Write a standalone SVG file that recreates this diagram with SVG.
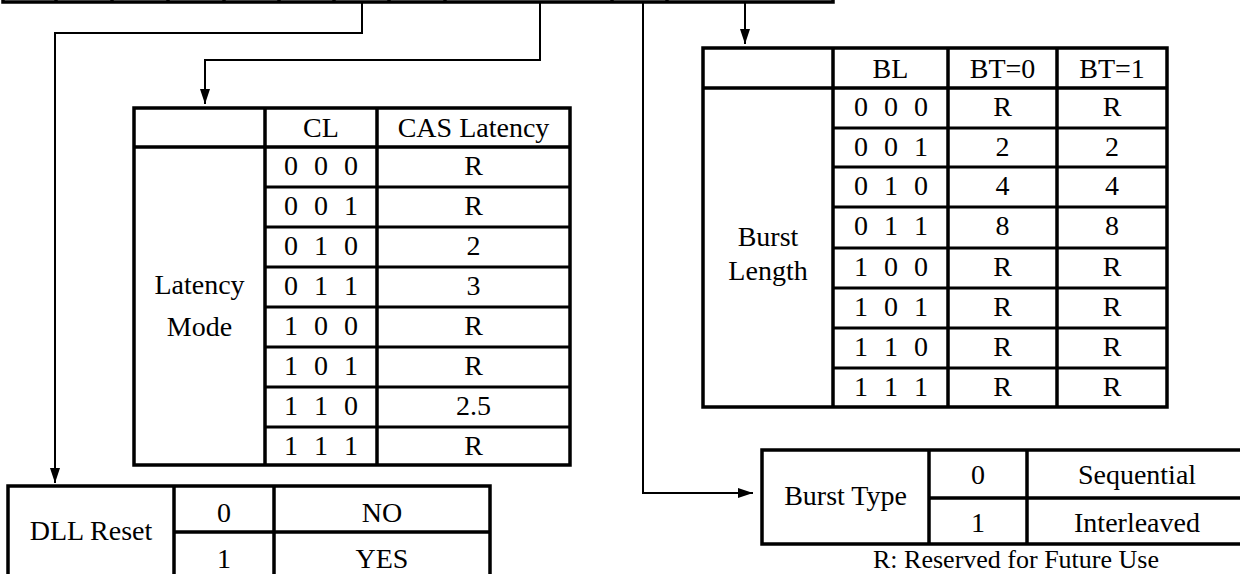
<svg xmlns="http://www.w3.org/2000/svg" width="1240" height="574" viewBox="0 0 1240 574">
<style>
.bg{fill:#fff}
.box{fill:none;stroke:#000;stroke-width:3.5}
.ln{stroke:#000;stroke-width:3.5}
.rl{stroke:#000;stroke-width:3}
.cn{fill:none;stroke:#000;stroke-width:2}
.t{font-family:'Liberation Serif','Times New Roman',Times,'DejaVu Serif',serif;font-size:28px;fill:#000;text-anchor:middle}
.note{font-size:26px}
</style>
<defs>
<marker id="ah" markerUnits="userSpaceOnUse" markerWidth="15" markerHeight="10" refX="15" refY="5" orient="auto">
<path d="M0,0 L15,5 L0,10 Z" fill="#000"/>
</marker>
</defs>
<rect class="bg" x="0" y="0" width="1240" height="574"/>

<g id="register-bar">
<rect class="box" x="3" y="-40" width="830" height="42"/>
<path class="ln" d="M56,-40V2 M112,-40V2 M168,-40V2 M224,-40V2 M279,-40V2 M334,-40V2 M389,-40V2 M445,-40V2 M612,-40V2 M667,-40V2"/>
</g>

<g id="connectors">
<path class="cn" d="M362,2 V33 H55 V483" marker-end="url(#ah)"/>
<path class="cn" d="M540,2 V60 H205 V104" marker-end="url(#ah)"/>
<path class="cn" d="M643,2 V493 H753" marker-end="url(#ah)"/>
<path class="cn" d="M745,2 V44" marker-end="url(#ah)"/>
</g>

<g id="latency-table" class="t">
<rect class="box" x="134" y="108" width="436" height="357"/>
<path class="ln" d="M265,108V465 M377,108V465 M134,147H570"/>
<path class="rl" d="M265,187H570 M265,227H570 M265,267H570 M265,307H570 M265,347H570 M265,387H570 M265,427H570"/>
<text x="321" y="137">CL</text>
<text x="473.5" y="137">CAS Latency</text>
<text x="199.5" y="294">Latency</text>
<text x="199.5" y="336">Mode</text>
<text x="291 306 321 336 351" y="175">0 0 0</text>
<text x="291 306 321 336 351" y="215">0 0 1</text>
<text x="291 306 321 336 351" y="255">0 1 0</text>
<text x="291 306 321 336 351" y="295">0 1 1</text>
<text x="291 306 321 336 351" y="335">1 0 0</text>
<text x="291 306 321 336 351" y="375">1 0 1</text>
<text x="291 306 321 336 351" y="415">1 1 0</text>
<text x="291 306 321 336 351" y="455">1 1 1</text>
<text x="473.5" y="175">R</text>
<text x="473.5" y="215">R</text>
<text x="473.5" y="255">2</text>
<text x="473.5" y="295">3</text>
<text x="473.5" y="335">R</text>
<text x="473.5" y="375">R</text>
<text x="473.5" y="415">2.5</text>
<text x="473.5" y="455">R</text>
</g>

<g id="burst-length-table" class="t">
<rect class="box" x="703" y="48" width="464" height="359"/>
<path class="ln" d="M833,48V407 M948,48V407 M1057,48V407 M703,88H1167"/>
<path class="rl" d="M833,128H1167 M833,167H1167 M833,207H1167 M833,248H1167 M833,288H1167 M833,328H1167 M833,368H1167"/>
<text x="890.5" y="78">BL</text>
<text x="1002.5" y="78">BT=0</text>
<text x="1112" y="78">BT=1</text>
<text x="768" y="246">Burst</text>
<text x="768" y="280">Length</text>
<text x="861 876 891 906 921" y="116">0 0 0</text>
<text x="861 876 891 906 921" y="156">0 0 1</text>
<text x="861 876 891 906 921" y="195">0 1 0</text>
<text x="861 876 891 906 921" y="235">0 1 1</text>
<text x="861 876 891 906 921" y="276">1 0 0</text>
<text x="861 876 891 906 921" y="316">1 0 1</text>
<text x="861 876 891 906 921" y="356">1 1 0</text>
<text x="861 876 891 906 921" y="396">1 1 1</text>
<text x="1002.5" y="116">R</text><text x="1112" y="116">R</text>
<text x="1002.5" y="156">2</text><text x="1112" y="156">2</text>
<text x="1002.5" y="195">4</text><text x="1112" y="195">4</text>
<text x="1002.5" y="235">8</text><text x="1112" y="235">8</text>
<text x="1002.5" y="276">R</text><text x="1112" y="276">R</text>
<text x="1002.5" y="316">R</text><text x="1112" y="316">R</text>
<text x="1002.5" y="356">R</text><text x="1112" y="356">R</text>
<text x="1002.5" y="396">R</text><text x="1112" y="396">R</text>
</g>

<g id="dll-reset-table" class="t">
<rect class="box" x="8" y="486" width="482" height="100"/>
<path class="ln" d="M174,486V586 M274,486V586 M174,532H490"/>
<text x="91" y="540">DLL Reset</text>
<text x="224" y="522">0</text>
<text x="382" y="522">NO</text>
<text x="224" y="568">1</text>
<text x="382" y="568">YES</text>
</g>

<g id="burst-type-table" class="t">
<rect class="box" x="762" y="450" width="490" height="94"/>
<path class="ln" d="M929,450V544 M1027,450V544 M929,498H1252"/>
<text x="845.5" y="505">Burst Type</text>
<text x="978" y="484">0</text>
<text x="1137" y="484">Sequential</text>
<text x="978" y="532">1</text>
<text x="1137" y="532">Interleaved</text>
</g>

<g id="note" class="t">
<text class="note" x="1016" y="568">R: Reserved for Future Use</text>
</g>
</svg>
